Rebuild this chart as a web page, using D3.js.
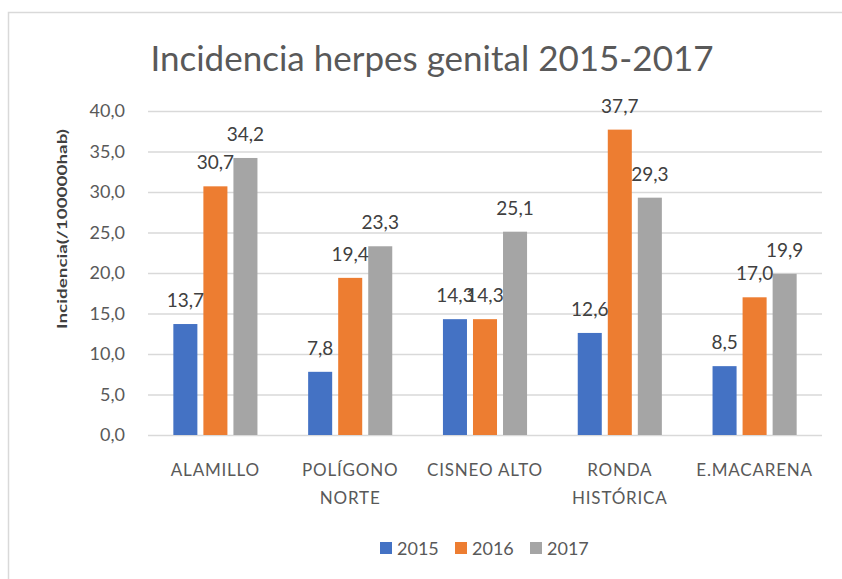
<!DOCTYPE html>
<html>
<head>
<meta charset="utf-8">
<script src="https://cdn.jsdelivr.net/npm/d3@7"></script>
<style>
  body { margin: 0; background: #fff; }
  svg { display: block; font-family: Lato, "Noto Sans", sans-serif; }
</style>
</head>
<body>
<div id="chart"></div>
<script>
// datos del gráfico
var barrios = [["ALAMILLO"], ["POLÍGONO", "NORTE"], ["CISNEO ALTO"], ["RONDA", "HISTÓRICA"], ["E.MACARENA"]];
var anios = ["2015", "2016", "2017"];
var valores2015 = [13.7, 7.8, 14.3, 12.6, 8.5];
var valores2016 = [30.7, 19.4, 14.3, 37.7, 17.0];
var valores2017 = [34.2, 23.3, 25.1, 29.3, 19.9];
var ticksY = [0, 5, 10, 15, 20, 25, 30, 35, 40];
var colores = ["#4472C4", "#ED7D31", "#A5A5A5"];

var width = 842, height = 579;
var series = [valores2015, valores2016, valores2017];
var coma = function (v) { return d3.format(".1f")(v).replace(".", ","); };

var svg = d3.select("#chart").append("svg")
    .attr("width", width)
    .attr("height", height);

// borde del área del gráfico
svg.append("rect")
    .attr("x", 8.5).attr("y", 12.5)
    .attr("width", width).attr("height", height)
    .attr("fill", "none")
    .attr("stroke", "#d9d9d9")
    .attr("stroke-width", 1.5);

// título
svg.append("text")
    .attr("x", 432).attr("y", 71)
    .attr("text-anchor", "middle")
    .attr("fill", "#595959")
    .style("font-size", "35px")
    .text("Incidencia herpes genital 2015-2017");

var plotLeft = 148, plotRight = 822;
var y = d3.scaleLinear().domain([0, 40]).range([435, 111]);
// cada grupo: 3 barras de 24px con separación de 6px
var x0 = d3.scaleBand().domain(d3.range(barrios.length)).range([plotLeft, plotRight]).paddingInner(0.376).paddingOuter(0.188);
var x1 = d3.scaleBand().domain(d3.range(anios.length)).range([0, x0.bandwidth()]).paddingInner(0.2);

// rejilla
var yAxis = d3.axisLeft(y).tickValues(ticksY).tickSize(-(plotRight - plotLeft)).tickFormat(coma).tickPadding(23);
var gy = svg.append("g")
    .attr("transform", "translate(" + plotLeft + ",0)")
    .call(yAxis);
gy.select(".domain").remove();
gy.selectAll(".tick line").attr("stroke", "#d9d9d9").attr("stroke-width", 1.3);
gy.selectAll(".tick text")
    .attr("fill", "#595959")
    .style("font-size", "18px")
    .style("font-family", "Lato, sans-serif");

// título eje y
svg.append("text")
    .attr("transform", "translate(67,229) rotate(-90)")
    .attr("text-anchor", "middle")
    .attr("fill", "#404040")
    .attr("textLength", 200)
    .attr("lengthAdjust", "spacingAndGlyphs")
    .style("font-size", "14px")
    .style("font-weight", "bold")
    .text("Incidencia(/100000hab)");

// barras
var grupos = svg.append("g").selectAll("g")
    .data(barrios)
    .enter().append("g")
    .attr("transform", function (d, i) { return "translate(" + x0(i) + ",0)"; });

grupos.selectAll("rect")
    .data(function (d, i) { return series.map(function (s, k) { return { k: k, v: s[i] }; }); })
    .enter().append("rect")
    .attr("x", function (d) { return x1(d.k); })
    .attr("y", function (d) { return y(d.v); })
    .attr("width", x1.bandwidth())
    .attr("height", function (d) { return y(0) - y(d.v); })
    .attr("fill", function (d) { return colores[d.k]; });

grupos.selectAll("text.valor")
    .data(function (d, i) { return series.map(function (s, k) { return { k: k, v: s[i] }; }); })
    .enter().append("text")
    .attr("class", "valor")
    .attr("x", function (d) { return x1(d.k) + x1.bandwidth() / 2; })
    .attr("y", function (d) { return y(d.v) - 17; })
    .attr("text-anchor", "middle")
    .attr("fill", "#404040")
    .style("font-size", "19px")
    .text(function (d) { return coma(d.v); });

// etiquetas eje x
var etiquetas = svg.append("g").selectAll("text")
    .data(barrios)
    .enter().append("text")
    .attr("x", function (d, i) { return x0(i) + x0.bandwidth() / 2; })
    .attr("y", 476)
    .attr("text-anchor", "middle")
    .attr("fill", "#595959")
    .style("font-size", "17px")
    .style("letter-spacing", "0.8px");
etiquetas.selectAll("tspan")
    .data(function (d) { return d; })
    .enter().append("tspan")
    .attr("x", function () { return this.parentNode.getAttribute("x"); })
    .attr("dy", function (d, i) { return i === 0 ? 0 : 28; })
    .text(function (d) { return d; });

// leyenda
var leyenda = svg.append("g").selectAll("g")
    .data(anios)
    .enter().append("g")
    .attr("transform", function (d, i) { return "translate(" + (380 + i * 75) + ",542)"; });
leyenda.append("rect")
    .attr("width", 12).attr("height", 12)
    .attr("fill", function (d, i) { return colores[i]; });
leyenda.append("text")
    .attr("x", 17).attr("y", 12.5)
    .attr("fill", "#595959")
    .style("font-size", "18px")
    .text(function (d) { return d; });
</script>
</body>
</html>
